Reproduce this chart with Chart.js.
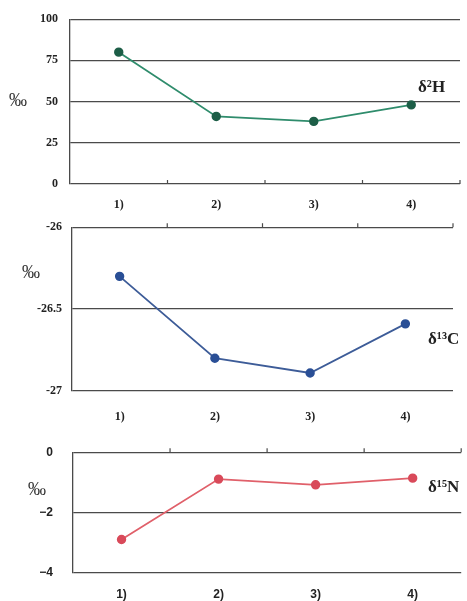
<!DOCTYPE html>
<html>
<head>
<meta charset="utf-8">
<script src="https://cdn.jsdelivr.net/npm/chart.js@4"></script>
<style>
  body { margin: 0; background: #ffffff; }
  #wrap { position: relative; width: 467px; height: 601px; }
  .box { position: absolute; left: 0; width: 467px; }
</style>
</head>
<body>
<div id="wrap">
  <div class="box" style="top:0;height:216px"><canvas id="chartH"></canvas></div>
  <div class="box" style="top:210px;height:215px"><canvas id="chartC"></canvas></div>
  <div class="box" style="top:425px;height:176px"><canvas id="chartN"></canvas></div>
</div>
<script>
// samples
const categories = ['1)', '2)', '3)', '4)'];

// isotope values (per mil)
const d2H = [80, 41, 38, 48];
const d13C = [-26.30, -26.80, -26.89, -26.59];
const d15N = [-2.89, -0.89, -1.08, -0.86];

// y axis ranges
const rangeH = { min: 0, max: 100, step: 25 };
const rangeC = { min: -27, max: -26, step: 0.5 };
const rangeN = { min: -4, max: 0, step: 2 };

const gridColor = '#4a4a4a';

// draws the per mil sign, the series name and the small category ticks
const extras = {
  id: 'extras',
  afterDraw(chart, args, opts) {
    const ctx = chart.ctx;
    const area = chart.chartArea;
    const x = chart.scales.x;
    ctx.save();
    // small tick marks between categories, pointing up
    ctx.strokeStyle = gridColor;
    ctx.lineWidth = 1.2;
    const lineY = opts.tickSide === 'top' ? area.top : area.bottom;
    for (let i = 0; i < categories.length; i++) {
      const half = (x.getPixelForValue(1) - x.getPixelForValue(0)) / 2;
      const px = x.getPixelForValue(i) + half;
      ctx.beginPath();
      ctx.moveTo(px, lineY);
      ctx.lineTo(px, lineY - 4);
      ctx.stroke();
    }
    // per mil sign
    ctx.fillStyle = '#333';
    ctx.font = '18px "Liberation Serif"';
    ctx.textBaseline = 'middle';
    ctx.textAlign = 'left';
    ctx.fillText('‰', opts.permilX, opts.permilY);
    // series name
    ctx.fillStyle = '#222';
    ctx.font = 'bold 17px "Liberation Serif"';
    ctx.fillText(opts.name, opts.nameX, opts.nameY);
    ctx.restore();
  }
};

function makeChart(id, values, range, color, pointColor, pad, axisW, axisH, tickPad, yPad, fontFamily, minus, extraOpts) {
  return new Chart(document.getElementById(id), {
    type: 'line',
    data: {
      labels: categories,
      datasets: [{
        data: values,
        borderColor: color,
        backgroundColor: pointColor,
        pointBackgroundColor: pointColor,
        pointBorderColor: pointColor,
        pointRadius: 3.8,
        borderWidth: 1.8,
        tension: 0
      }]
    },
    options: {
      responsive: true,
      maintainAspectRatio: false,
      animation: false,
      layout: { padding: pad },
      plugins: {
        legend: { display: false },
        tooltip: { enabled: false },
        extras: extraOpts
      },
      scales: {
        x: {
          type: 'category',
          offset: true,
          grid: { display: false, drawTicks: false },
          border: { display: false },
          ticks: {
            padding: tickPad,
            color: '#222',
            font: { family: fontFamily, size: 12, weight: 'bold' }
          },
          afterFit(scale) { scale.height = axisH; }
        },
        y: {
          min: range.min,
          max: range.max,
          grid: { color: gridColor, lineWidth: 1.3, drawTicks: false },
          border: { display: true, color: gridColor, width: 1.3 },
          ticks: {
            stepSize: range.step,
            padding: yPad,
            color: '#222',
            font: { family: fontFamily, size: 12, weight: 'bold' },
            callback: (v) => String(v).replace('-', minus)
          },
          afterFit(scale) { scale.width = axisW; }
        }
      }
    },
    plugins: [extras]
  });
}

makeChart('chartH', d2H, rangeH, '#2f8c6c', '#1d5e47',
  { top: 18, right: 7, left: 0, bottom: 0 }, 70, 32, 14, 12, 'Liberation Serif', '-',
  { tickSide: 'bottom', permilX: 9, permilY: 101, name: 'δ²H', nameX: 418, nameY: 88 });

makeChart('chartC', d13C, rangeC, '#3d5c98', '#2a4f96',
  { top: 15, right: 14, left: 0, bottom: 0 }, 72, 34, 19, 10, 'Liberation Serif', '-',
  { tickSide: 'top', permilX: 22, permilY: 63, name: 'δ¹³C', nameX: 428, nameY: 130 });

makeChart('chartN', d15N, rangeN, '#e0606a', '#d94a5a',
  { top: 18, right: 2, left: 0, bottom: 0 }, 73, 28, 14, 20, 'Liberation Sans', '\u2212',
  { tickSide: 'top', permilX: 28, permilY: 65, name: 'δ¹⁵N', nameX: 428, nameY: 63 });
</script>
</body>
</html>
